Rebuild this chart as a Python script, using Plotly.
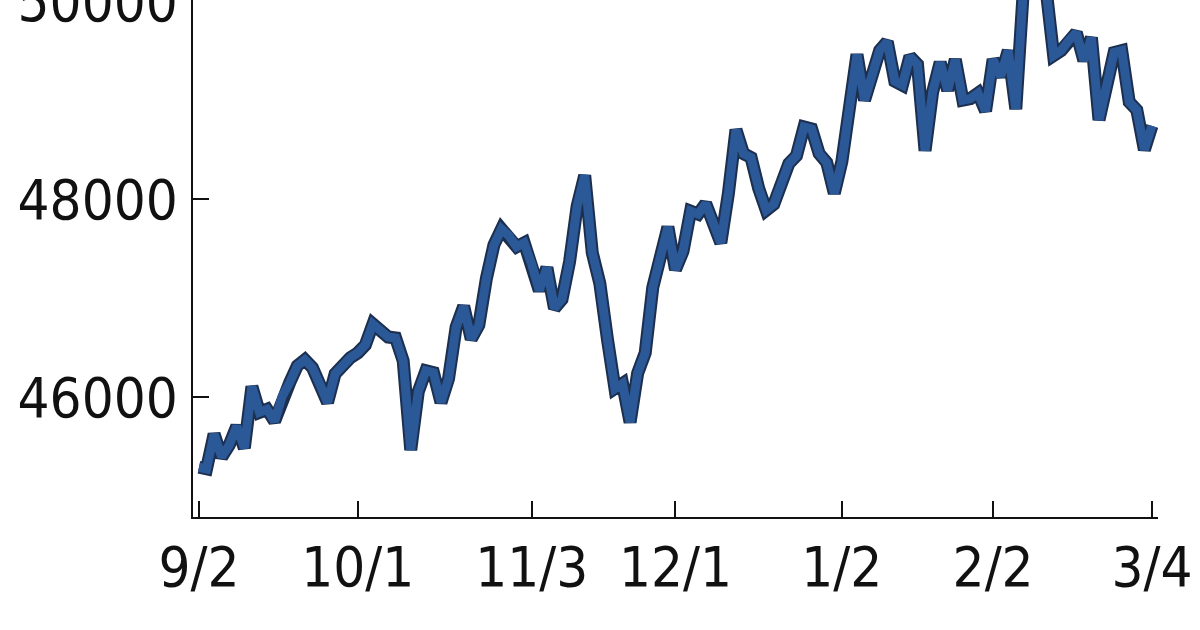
import plotly.graph_objects as go

# trading days, Sep 2 -> Mar 4
trade_dates = [
    "9/2", "9/3", "9/4", "9/5", "9/8", "9/9", "9/10", "9/11", "9/12", "9/15",
    "9/16", "9/17", "9/18", "9/19", "9/22", "9/23", "9/24", "9/25", "9/26", "9/29", "9/30",
    "10/1", "10/2", "10/3", "10/6", "10/7", "10/8", "10/9", "10/10", "10/13", "10/14",
    "10/15", "10/16", "10/17", "10/20", "10/21", "10/22", "10/23", "10/24", "10/27",
    "10/28", "10/29", "10/30", "10/31",
    "11/3", "11/4", "11/5", "11/6", "11/7", "11/10", "11/11", "11/12", "11/13", "11/14",
    "11/17", "11/18", "11/19", "11/20", "11/21", "11/24", "11/25", "11/26", "11/28",
    "12/1", "12/2", "12/3", "12/4", "12/5", "12/8", "12/9", "12/10", "12/11", "12/12",
    "12/15", "12/16", "12/17", "12/18", "12/19", "12/22", "12/23", "12/24", "12/26",
    "12/29", "12/30", "12/31",
    "1/2", "1/5", "1/6", "1/7", "1/8", "1/9", "1/12", "1/13", "1/14", "1/15", "1/16",
    "1/20", "1/21", "1/22", "1/23", "1/26", "1/27", "1/28", "1/29", "1/30",
    "2/2", "2/3", "2/4", "2/5", "2/6", "2/9", "2/10", "2/11", "2/12", "2/13", "2/17",
    "2/18", "2/19", "2/20", "2/23", "2/24", "2/25", "2/26", "2/27",
    "3/2", "3/3", "3/4",
]

close_values = [
    # Sep
    45296, 45280, 45630, 45400, 45520, 45710, 45490, 46110, 45850, 45880,
    45760, 46010, 46150, 46320, 46380, 46300, 46130, 45950, 46240, 46330, 46400,
    # Oct
    46450, 46530, 46740, 46680, 46610, 46600, 46370, 45470, 46060, 46270,
    46250, 45950, 46190, 46710, 46920, 46590, 46730, 47200, 47540, 47700,
    47630, 47520, 47560,
    # Nov
    47340, 47080, 47310, 46900, 46990, 47370, 47930, 48240, 47460, 47150,
    46590, 46090, 46140, 45750, 46245, 46450, 47110, 47430, 47720,
    # Dec
    47290, 47475, 47880, 47850, 47955, 47740, 47560, 48060, 48700, 48460,
    48420, 48110, 47890, 47950, 48135, 48360, 48440, 48730, 48710, 48460,
    48370, 48060,
    # Jan
    48380, 48980, 49460, 49000, 49270, 49500, 49590, 49190, 49150, 49440,
    49360, 48490, 49080, 49380, 49100, 49410, 49000, 49015, 49070, 48890,
    # Feb
    49410, 49240, 49500, 48910, 50115, 50135, 50190, 50120, 49450, 49500,
    49600, 49680, 49400, 49630, 48800, 49180, 49480, 49500, 48980,
    # Mar
    48900, 48500, 48740,
]

tick_labels = ["9/2", "10/1", "11/3", "12/1", "1/2", "2/2", "3/4"]
y_ticks = [46000, 48000, 50000]

x_idx = list(range(len(trade_dates)))
tick_pos = [trade_dates.index(t) for t in tick_labels]

tick_font = dict(family="Noto Sans ExtraCondensed, Noto Sans Condensed, DejaVu Sans Condensed",
                 size=56, color="#111111")

fig = go.Figure()
# dark edge under the blue line
fig.add_trace(go.Scatter(x=x_idx, y=close_values, mode="lines",
                         line=dict(color="#1c2f4f", width=13),
                         hoverinfo="skip", showlegend=False))
fig.add_trace(go.Scatter(x=x_idx, y=close_values, mode="lines",
                         line=dict(color="#2b5896", width=9),
                         text=trade_dates, hovertemplate="%{text}: %{y}<extra></extra>",
                         showlegend=False))

axis_style = dict(
    showgrid=False, zeroline=False, automargin=False,
    showline=True, linecolor="#111111", linewidth=2,
    ticks="inside", ticklen=16, tickwidth=2, tickcolor="#111111",
    tickfont=tick_font, ticklabeloverflow="allow",
)

fig.update_xaxes(range=[-0.79, 126.8], tickvals=tick_pos, ticktext=tick_labels,
                 ticklabelstandoff=0, **axis_style)
fig.update_yaxes(range=[44794, 50010], tickvals=y_ticks, tickformat="d",
                 ticklabelstandoff=2, **axis_style)

fig.update_layout(
    width=1200, height=630,
    margin=dict(l=193, r=42, t=0, b=113),
    plot_bgcolor="white", paper_bgcolor="white",
)

fig.write_html("out.html", config={"displayModeBar": False},
               post_script="document.body.style.margin='0';")
